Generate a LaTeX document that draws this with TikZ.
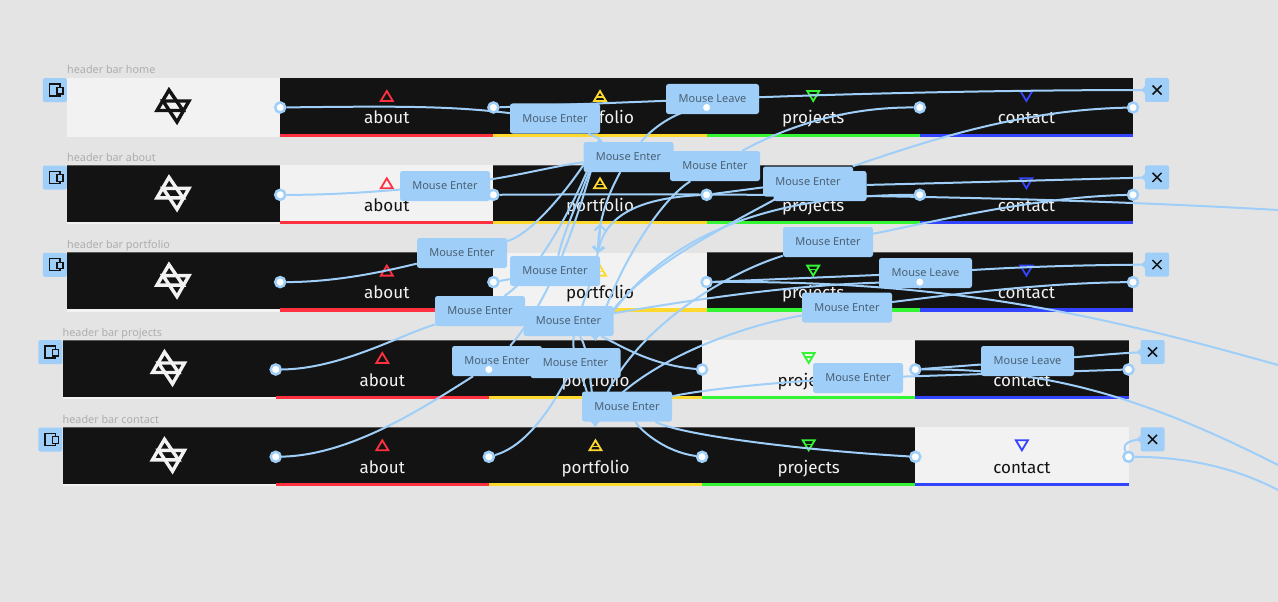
\documentclass[tikz,border=0pt]{standalone}
\usepackage{fontspec}
\setmainfont{Noto Sans}
\newfontfamily\barfont{Fira Sans}
\usetikzlibrary{arrows.meta}
\pgfdeclarelayer{bars}
\pgfdeclarelayer{wires}
\pgfsetlayers{bars,wires,main}
\definecolor{pagegray}{HTML}{E4E4E4}
\definecolor{bardark}{HTML}{131313}
\definecolor{barlight}{HTML}{F2F2F2}
\definecolor{wireblue}{HTML}{9FCFF8}
\definecolor{tagtext}{HTML}{4A6075}
\definecolor{navred}{HTML}{FF3040}
\definecolor{navyellow}{HTML}{FFD92E}
\definecolor{navgreen}{HTML}{33F533}
\definecolor{navblue}{HTML}{3344FF}
\tikzset{
  wire/.style={draw=wireblue, line width=2pt},
  barb/.style={-{Straight Barb[length=5pt,width=11pt]}},
  pin/.style={circle, draw=wireblue, line width=2.5pt, fill=white, inner sep=0pt, minimum size=10pt},
  tag/.style={fill=wireblue, rounded corners=2.5pt, text=tagtext, inner sep=0pt,
    minimum height=30pt, font=\fontsize{11}{13}\selectfont},
  enter/.style={tag, minimum width=90pt},
  leave/.style={tag, minimum width=93pt},
  handle/.style={fill=wireblue, rounded corners=2pt, minimum size=24pt, inner sep=0pt},
  barname/.style={anchor=base west, inner sep=0pt, text=black!32, font=\fontsize{10.8}{12}\selectfont},
  navword/.style={anchor=base, inner sep=0pt, font=\barfont\fontsize{17}{20}\selectfont},
}
\begin{document}
\begin{tikzpicture}[x=1pt, y=-1pt]
  \useasboundingbox (0,0) rectangle (1278,602);
  \begin{pgfonlayer}{bars}
    \fill[pagegray] (0,0) rectangle (1278,602);
  \end{pgfonlayer}

  % the five bars
  \foreach \row/\ty/\lx/\active/\word in {1/78/67/0/home, 2/165.3/67/1/about, 3/252.6/67/2/portfolio, 4/340/62.5/3/projects, 5/427.3/62.5/4/contact} {
    \pgfmathsetmacro{\tym}{\ty+56.5}
    \pgfmathsetmacro{\tyb}{\ty+59}
    \node[barname] (title\row) at (\lx,\ty-4) {header bar \word};
    \node[handle, anchor=north east] (frame\row) at (\lx,\ty) {};
    \draw[bardark, line width=1.1pt] (\lx-17.5,\ty+6) rectangle (\lx-7,\ty+18);
    \draw[bardark, line width=1.1pt, fill=wireblue] (\lx-10,\ty+9.5) rectangle (\lx-4,\ty+16);
    \node[handle] (close\row) at (\lx+1090,\ty+12) {};
    \fill[wireblue] (\lx+1078,\ty+8) -- (\lx+1074.5,\ty+12) -- (\lx+1078,\ty+16) -- cycle;
    \draw[bardark, line width=1.5pt] (\lx+1085.5,\ty+7.5) -- (\lx+1094.5,\ty+16.5) (\lx+1085.5,\ty+16.5) -- (\lx+1094.5,\ty+7.5);
    \begin{pgfonlayer}{bars}
      % logo part
      \ifnum\active=0
        \fill[barlight] (\lx,\ty) rectangle (\lx+213.2,\tyb);
        \def\logocol{bardark}
      \else
        \fill[barlight] (\lx,\ty) rectangle (\lx+213.2,\tyb);
        \fill[bardark] (\lx,\ty) rectangle (\lx+213.2,\tym);
        \draw[black!65, line width=.6pt] (\lx,\ty) -- (\lx+213.2,\ty);
        \def\logocol{barlight}
      \fi
      \draw[\logocol, line width=3.4pt] (\lx+102,\ty+12) -- (\lx+116,\ty+32.5) -- (\lx+90,\ty+32.5) -- cycle;
      \draw[\logocol, line width=3.4pt] (\lx+96,\ty+23) -- (\lx+122,\ty+23) -- (\lx+110,\ty+44) -- cycle;
      % the four nav parts
      \foreach \k/\col/\navword/\dir in {1/navred/about/1, 2/navyellow/portfolio/1, 3/navgreen/projects/-1, 4/navblue/contact/-1} {
        \pgfmathsetmacro{\sx}{\lx+213.2*\k}
        \pgfmathsetmacro{\mx}{\sx+106.6}
        \pgfmathsetmacro{\iy}{\ty+18}
        \ifnum\active=\k
          \fill[barlight] (\sx,\ty) rectangle +(213.2,59);
          \def\wordcol{bardark}
        \else
          \fill[bardark] (\sx,\ty) rectangle +(213.2,59);
          \ifnum\active=0 \else \draw[black!65, line width=.6pt] (\sx,\ty) -- +(213.2,0); \fi
          \def\wordcol{barlight}
        \fi
        \fill[\col] (\sx,\ty+55.5) rectangle +(213.2,3.5);
        \draw[\col, line width=1.8pt, line join=miter] (\mx,\iy-5*\dir) -- (\mx+6,\iy+5*\dir) -- (\mx-6,\iy+5*\dir) -- cycle;
        \ifnum\k=2 \draw[\col, line width=1.6pt] (\mx-3,\iy+1) -- (\mx+3,\iy+1); \fi
        \ifnum\k=3 \draw[\col, line width=1.6pt] (\mx-3,\iy-1) -- (\mx+3,\iy-1); \fi
        \node[navword, text=\wordcol] (nav\row\k) at (\mx,\ty+46) {\navword};
      }
    \end{pgfonlayer}
    % hot spots
    \foreach \k in {1,...,5} {
      \node[pin] (p\row\k) at (\lx+213.2*\k,\ty+29.5) {};
    }
  }

  % interaction tags
  \node[leave] (leaveTwo) at (820,186) {};
  \node[enter] (enterOne) at (555,118.5) {Mouse Enter};
  \node[leave] (leaveOne) at (712.5,99) {Mouse Leave};
  \node[enter] (enterThree) at (715,166) {Mouse Enter};
  \node[enter] (enterTwo) at (628.5,157) {Mouse Enter};
  \node[enter] (enterAbout) at (445,186) {Mouse Enter};
  \node[enter] (enterFar) at (808,181.5) {Mouse Enter};
  \node[enter] (enterLow) at (828,242) {Mouse Enter};
  \node[enter] (enterBack) at (462,253) {Mouse Enter};
  \node[enter] (enterPort) at (555,271) {Mouse Enter};
  \node[leave] (leaveThree) at (925.5,273) {Mouse Leave};
  \node[enter] (enterFour) at (480,311) {Mouse Enter};
  \node[enter] (enterMid) at (847,307.5) {Mouse Enter};
  \node[enter] (enterFive) at (497,361) {Mouse Enter};
  \node[enter] (enterSix) at (568.5,321) {Mouse Enter};
  \node[enter] (enterSeven) at (575.5,363) {Mouse Enter};
  \node[enter] (enterProj) at (858,378) {Mouse Enter};
  \node[leave] (leaveFour) at (1027.5,361) {Mouse Leave};
  \node[enter] (enterLast) at (627,406.5) {Mouse Enter};

  % the hot spots that sit on a tag stay on top
  \node[pin] at (p13) {};
  \node[pin] at (p34) {};
  \node[pin] at (p42) {};

  % arrow ends
  \coordinate (hubTop) at (600,139);
  \coordinate (hubUp) at (600,224);
  \coordinate (hubDown) at (598,253);
  \coordinate (hubLow) at (595,340);
  \coordinate (hubBot) at (595,426);
  \coordinate (offOne) at (1278,210);
  \coordinate (offTwo) at (1278,365);
  \coordinate (offThree) at (1278,465);
  \coordinate (offFour) at (1278,490);
  \fill[wireblue] (hubTop) -- ++(6,6) -- ++(-12,0) -- cycle;
  \fill[wireblue] (hubLow) -- ++(6,-6) -- ++(-12,0) -- cycle;
  \fill[wireblue] (hubBot) -- ++(6,-6) -- ++(-12,0) -- cycle;

  \begin{pgfonlayer}{wires}
    % row 1
    \draw[wire] (p11) .. controls (400,106) and (450,106) .. (enterOne);
    \draw[wire] (enterOne) -- (hubTop);
    \draw[wire] (p12) -- (leaveOne);
    \draw[wire] (leaveOne) .. controls (900,92) and (1050,90) .. (close1);
    \draw[wire] (p13) .. controls (680,110) and (655,125) .. (enterTwo);
    \draw[wire, barb] (enterTwo) .. controls (605,200) and (598,225) .. (hubDown);
    \draw[wire] (p14) .. controls (840,107) and (780,130) .. (enterThree);
    \draw[wire] (enterThree) .. controls (660,200) and (615,270) .. (hubLow);
    \draw[wire] (p15) .. controls (1020,110) and (930,140) .. (enterFar);
    \draw[wire] (enterFar) .. controls (700,240) and (620,280) .. (hubLow);
    % row 2
    \draw[wire] (p21) .. controls (330,195) and (370,192) .. (enterAbout);
    \draw[wire] (enterAbout) .. controls (520,175) and (560,165) .. (enterTwo);
    \draw[wire] (p22) .. controls (800,193) and (1050,197) .. (offOne);
    \draw[wire] (p23) -- (enterFar);
    \draw[wire] (leaveTwo) .. controls (950,183) and (1050,180) .. (close2);
    \draw[wire, barb] (p23) .. controls (640,198) and (605,215) .. (hubDown);
    \draw[wire] (p24) .. controls (760,195) and (650,240) .. (hubLow);
    \draw[wire] (p25) .. controls (1030,197) and (920,225) .. (enterLow);
    \draw[wire] (enterLow) .. controls (720,275) and (615,340) .. (hubBot);
    % row 3
    \draw[wire] (p31) .. controls (340,282) and (390,270) .. (enterBack);
    \draw[wire] (enterBack) .. controls (530,235) and (570,190) .. (hubTop);
    \draw[wire] (p32) -- (enterPort);
    \draw[wire] (enterPort) .. controls (565,225) and (585,190) .. (hubTop);
    \draw[wire] (p33) -- (leaveThree);
    \draw[wire] (p33) .. controls (950,280) and (1100,315) .. (offTwo);
    \draw[wire] (p34) .. controls (820,282) and (720,295) .. (enterSix);
    \draw[wire] (leaveThree) .. controls (1020,267) and (1080,265) .. (close3);
    \draw[wire] (p35) .. controls (1040,283) and (950,295) .. (enterMid);
    \draw[wire] (enterMid) .. controls (720,330) and (620,375) .. (hubBot);
    % row 4
    \draw[wire] (p41) .. controls (340,369) and (400,335) .. (enterFour);
    \draw[wire] (enterFour) .. controls (530,280) and (570,220) .. (hubTop);
    \draw[wire] (p42) -- (enterSeven);
    \draw[wire] (enterFive) .. controls (550,300) and (575,230) .. (hubTop);
    \draw[wire, barb] (enterSeven) .. controls (570,320) and (600,280) .. (hubUp);
    \draw[wire] (p43) .. controls (650,365) and (620,345) .. (enterSix);
    \draw[wire] (enterSix) .. controls (590,350) and (592,400) .. (hubBot);
    \draw[wire] (p44) .. controls (1050,368) and (1150,400) .. (offThree);
    \draw[wire] (p44) -- (leaveFour);
    \draw[wire] (leaveFour) .. controls (1090,356) and (1120,353) .. (close4);
    \draw[wire] (p45) -- (enterProj);
    \draw[wire] (enterProj) .. controls (770,383) and (700,390) .. (enterLast);
    % row 5
    \draw[wire] (p51) .. controls (350,455) and (420,410) .. (enterFive);
    \draw[wire] (p52) .. controls (530,445) and (555,400) .. (enterSeven);
    \draw[wire] (enterSeven) .. controls (585,385) and (590,400) .. (hubBot);
    \draw[wire] (p53) .. controls (665,452) and (640,430) .. (enterLast);
    \draw[wire] (p54) .. controls (800,450) and (680,435) .. (enterLast);
    \draw[wire] (p55) .. controls (1122,445) and (1128,440) .. (close5);
    \draw[wire] (p55) .. controls (1180,457) and (1230,465) .. (offFour);
  \end{pgfonlayer}
\end{tikzpicture}
\end{document}
